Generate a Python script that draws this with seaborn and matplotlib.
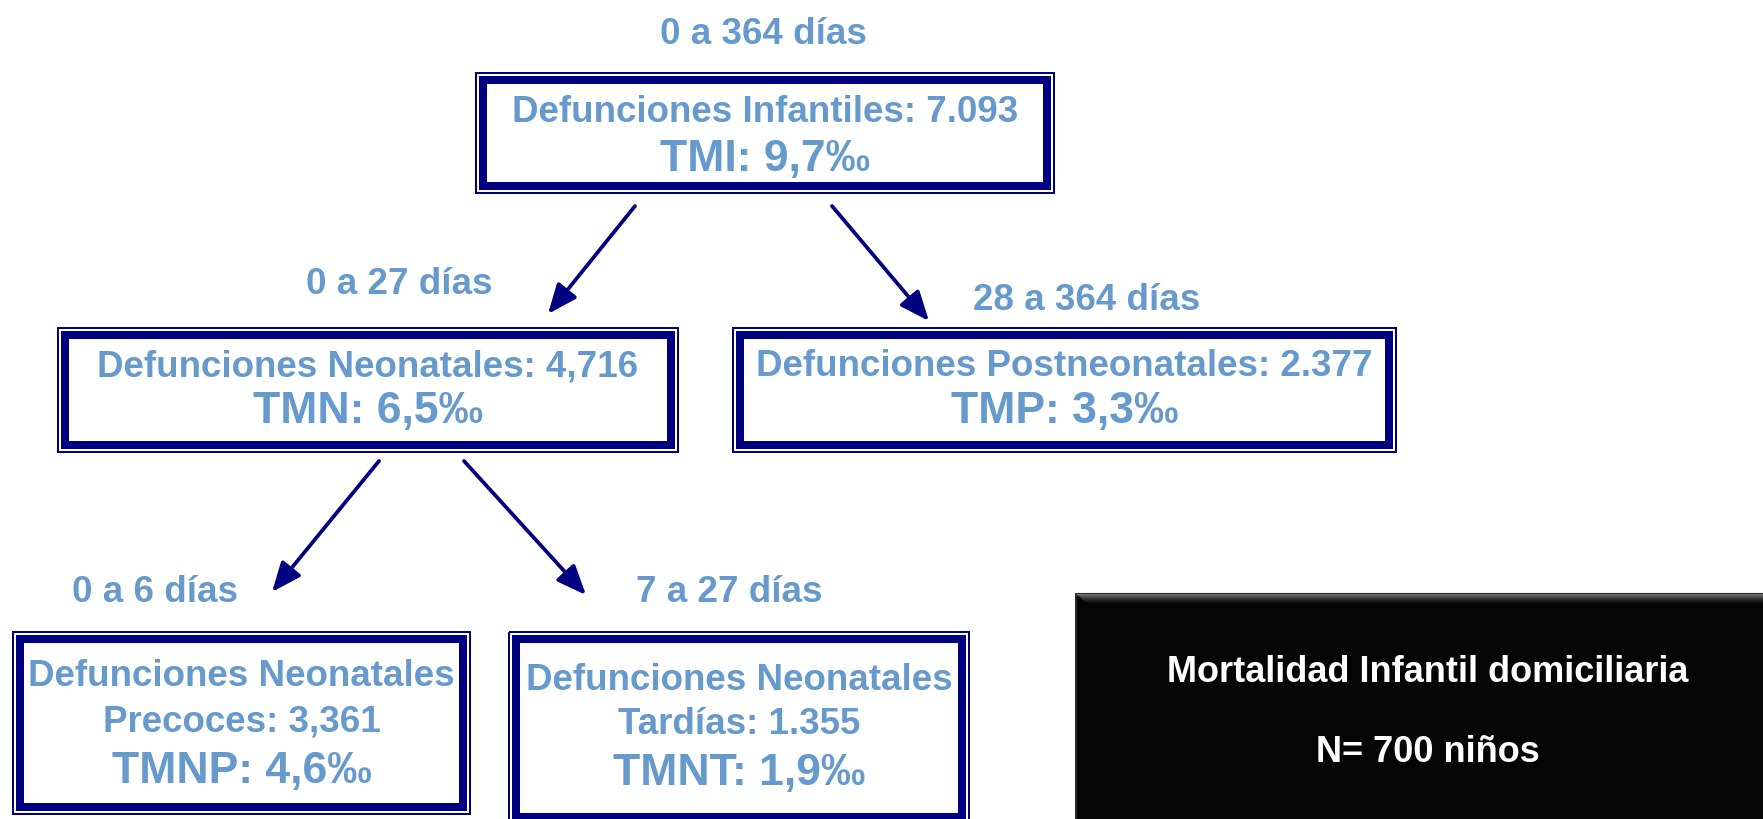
import matplotlib
matplotlib.use("Agg")
import matplotlib.pyplot as plt
from matplotlib.patches import Rectangle, Polygon
import seaborn as sns

# ---------- Data ----------
age_ranges = ["0 a 364 días", "0 a 27 días", "28 a 364 días", "0 a 6 días", "7 a 27 días"]
group_names = ["Defunciones Infantiles", "Defunciones Neonatales", "Defunciones Postneonatales",
               "Defunciones Neonatales\nPrecoces", "Defunciones Neonatales\nTardías"]
death_counts = ["7.093", "4,716", "2.377", "3,361", "1.355"]
rate_codes = ["TMI", "TMN", "TMP", "TMNP", "TMNT"]
rates = ["9,7", "6,5", "3,3", "4,6", "1,9"]
parent_of = [None, 0, 0, 1, 1]
note_lines = ["Mortalidad Infantil domiciliaria", "N= 700 niños"]

# ---------- Layout (pixels, y down) ----------
box_rects = [(476, 73, 1054, 193), (58, 328, 678, 452), (733, 328, 1396, 452),
             (13, 632, 470, 814), (509, 632, 969, 824)]
line_y = [[107, 154], [362, 407], [362, 407], [672, 717, 767], [676, 720, 768]]
range_xy = [(763, 30), (399, 279), (1087, 296), (155, 587), (729, 587)]
arrow_xy = [None, ((635, 206), (548, 314)), ((832, 206), (929, 321)),
            ((379, 461), (272, 592)), ((464, 461), (586, 595))]
note_rect = (1076, 594, 1770, 830)
note_y = [668, 747]
TXT_DY = 5  # baseline nudge

NAVY = "#000080"
BLUE = "#6699CC"

sns.set_style("white")
plt.rcParams["font.family"] = ["Liberation Sans", "DejaVu Sans"]

W, H = 1763, 819
fig = plt.figure(figsize=(W / 100, H / 100), dpi=100)
ax = fig.add_axes([0, 0, 1, 1])
ax.set_xlim(0, W)
ax.set_ylim(H, 0)
ax.axis("off")

px = 72 / 100  # pixels -> points

for i, (x0, y0, x1, y1) in enumerate(box_rects):
    # double border: thin outer line + thick inner line
    ax.add_patch(Rectangle((x0, y0), x1 - x0, y1 - y0, fill=False,
                           ec=NAVY, lw=2 * px))
    d = 7
    ax.add_patch(Rectangle((x0 + d, y0 + d), x1 - x0 - 2 * d, y1 - y0 - 2 * d,
                           fill=False, ec=NAVY, lw=8 * px))
    cx = (x0 + x1) / 2
    name_lines = group_names[i].split("\n")
    name_lines[-1] = f"{name_lines[-1]}: {death_counts[i]}"
    for j, txt in enumerate(name_lines):
        ax.text(cx, line_y[i][j] + TXT_DY, txt, ha="center", va="center",
                fontsize=26.5, fontweight="bold", color=BLUE)
    ax.text(cx, line_y[i][-1] + TXT_DY, f"{rate_codes[i]}: {rates[i]}‰", ha="center",
            va="center", fontsize=32, fontweight="bold", color=BLUE)
    rx, ry = range_xy[i]
    ax.text(rx, ry + TXT_DY, age_ranges[i], ha="center", va="center",
            fontsize=26.5, fontweight="bold", color=BLUE)
    if parent_of[i] is not None:
        (sx, sy), (ex, ey) = arrow_xy[i]
        ax.annotate("", xy=(ex, ey), xytext=(sx, sy),
                    arrowprops=dict(arrowstyle="-|>,head_length=1.2,head_width=0.5",
                                    mutation_scale=15, lw=2.7, color=NAVY,
                                    shrinkA=0, shrinkB=0))

# ---------- Black note box ----------
nx0, ny0, nx1, ny1 = note_rect
ax.add_patch(Rectangle((nx0, ny0), nx1 - nx0, ny1 - ny0, fc="#050505", ec="#2a2a2a", lw=1.5))
# bevelled top edge: grey fading into black
n_rows = 10
for k in range(n_rows):
    g = 0.42 * (1 - k / n_rows) ** 1.5 + 0.02
    yk = ny0 + k
    ax.add_patch(Polygon([(nx0 + k * 1.2, yk), (nx1, yk), (nx1, yk + 1.2), (nx0 + k * 1.2 + 1.2, yk + 1.2)],
                         closed=True, fc=(g, g, g), ec="none"))
ncx = (nx0 + W) / 2 + 8
for txt, y in zip(note_lines, note_y):
    ax.text(ncx, y + TXT_DY, txt, ha="center", va="center", fontsize=26,
            fontweight="bold", color="white")

fig.savefig("out.png", dpi=100, facecolor="white")
